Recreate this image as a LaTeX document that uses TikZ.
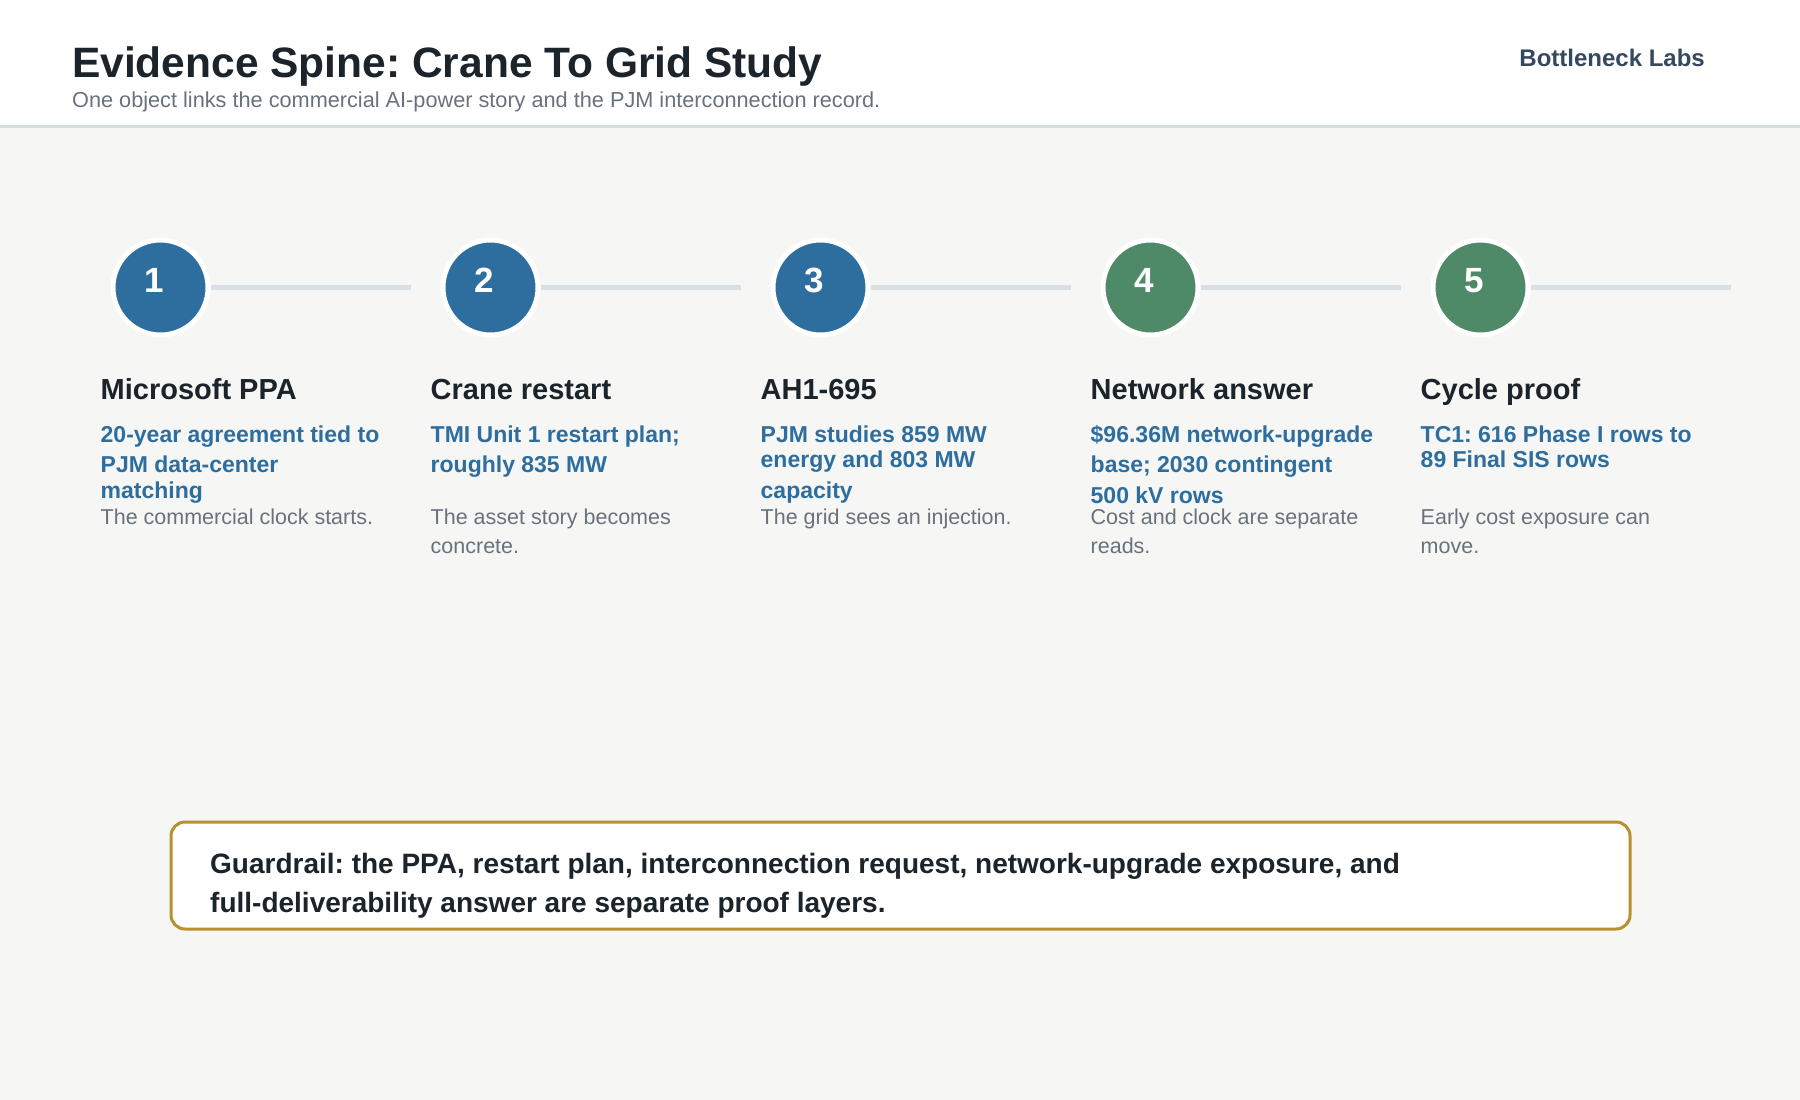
\documentclass[tikz,border=0pt]{standalone}
\usepackage{fontspec}
\setmainfont{Liberation Sans}
\frenchspacing
\definecolor{inkdark}{HTML}{1B232B}
\definecolor{inkgray}{HTML}{68727C}
\definecolor{brandslate}{HTML}{34495E}
\definecolor{stepblue}{HTML}{2E6E9E}
\definecolor{stepgreen}{HTML}{4E8A68}
\definecolor{spinegray}{HTML}{D8E0E5}
\definecolor{pagebg}{HTML}{F6F6F4}
\definecolor{rulegray}{HTML}{D5DEE3}
\definecolor{guardgold}{HTML}{B8912E}
\begin{document}
\begin{tikzpicture}[x=1pt,y=-1pt,
	stepdot/.style={circle, draw=white, line width=5pt, minimum size=95pt, inner sep=0pt},
	stepnum/.style={anchor=base, inner sep=0pt, text=white, font=\fontsize{35}{40}\selectfont\bfseries},
	spine/.style={spinegray, line width=5pt},
	steptitle/.style={anchor=base west, inner sep=0pt, text=inkdark, font=\fontsize{29}{34}\selectfont\bfseries},
	stepfact/.style={anchor=base west, inner sep=0pt, text=stepblue, font=\fontsize{23}{28}\selectfont\bfseries},
	stepnote/.style={anchor=base west, inner sep=0pt, text=inkgray, font=\fontsize{21.5}{29}\selectfont},
	guardtext/.style={anchor=base west, inner sep=0pt, text=inkdark, font=\fontsize{28}{39}\selectfont\bfseries}]
			
			% page
			\useasboundingbox (0,0) rectangle (1800,1100);
			\fill[pagebg] (0,0) rectangle (1800,1100);
			\fill[white] (0,0) rectangle (1800,125);
			\draw[rulegray, line width=3pt] (0,126.5) -- (1800,126.5);
			
			% header
			\node[anchor=base west, inner sep=0pt, text=inkdark, font=\fontsize{42.5}{50}\selectfont\bfseries] (title) at (72,77) {Evidence Spine: Crane To Grid Study};
			\node[anchor=base west, inner sep=0pt, text=inkgray, font=\fontsize{21.7}{26}\selectfont] (subtitle) at (72,107) {One object links the commercial AI-power story and the PJM interconnection record.};
			\node[anchor=base east, inner sep=0pt, text=brandslate, font=\fontsize{24}{28}\selectfont\bfseries] (brand) at (1705,66) {Bottleneck Labs};
			
			% steps
			\foreach \i/\col/\head in {1/stepblue/Microsoft PPA, 2/stepblue/Crane restart, 3/stepblue/AH1-695, 4/stepgreen/Network answer, 5/stepgreen/Cycle proof} {
				\pgfmathsetmacro{\x}{160.5+330*(\i-1)}
				\node[stepdot, fill=\col] (s\i) at (\x,287.5) {};
				\draw[spine] (s\i.east) -- ++(200,0);
				\node[stepnum] (n\i) at (\x-6.5,292) {\i};
				\node[steptitle] (h\i) at (\x-60,399) {\head};
			}
			
			% facts
			\node[stepfact] (f1a) at (100.5,442) {20-year agreement tied to};
			\node[stepfact] (f1b) at (100.5,472) {PJM data-center};
			\node[stepfact] (f1c) at (100.5,498) {matching};
			
			\node[stepfact] (f2a) at (430.5,442) {TMI Unit 1 restart plan;};
			\node[stepfact] (f2b) at (430.5,472) {roughly 835 MW};
			
			\node[stepfact] (f3a) at (760.5,442) {PJM studies 859 MW};
			\node[stepfact] (f3b) at (760.5,467) {energy and 803 MW};
			\node[stepfact] (f3c) at (760.5,498) {capacity};
			
			\node[stepfact] (f4a) at (1090.5,442) {\$96.36M network-upgrade};
			\node[stepfact] (f4b) at (1090.5,472) {base; 2030 contingent};
			\node[stepfact] (f4c) at (1090.5,503) {500 kV rows};
			
			\node[stepfact] (f5a) at (1420.5,442) {TC1: 616 Phase I rows to};
			\node[stepfact] (f5b) at (1420.5,467) {89 Final SIS rows};
			
			% notes
			\node[stepnote] (m1a) at (100.5,524) {The commercial clock starts.};
			\node[stepnote] (m2a) at (430.5,524) {The asset story becomes};
			\node[stepnote] (m2b) at (430.5,553) {concrete.};
			\node[stepnote] (m3a) at (760.5,524) {The grid sees an injection.};
			\node[stepnote] (m4a) at (1090.5,524) {Cost and clock are separate};
			\node[stepnote] (m4b) at (1090.5,553) {reads.};
			\node[stepnote] (m5a) at (1420.5,524) {Early cost exposure can};
			\node[stepnote] (m5b) at (1420.5,553) {move.};
			
			% guardrail
			\draw[guardgold, line width=3pt, fill=white, rounded corners=14pt] (171,822) rectangle (1630,929);
			\node[guardtext] (g1) at (210,873) {Guardrail: the PPA, restart plan, interconnection request, network-upgrade exposure, and};
			\node[guardtext] (g2) at (210,912) {full-deliverability answer are separate proof layers.};
			
		\end{tikzpicture}
\end{document}
